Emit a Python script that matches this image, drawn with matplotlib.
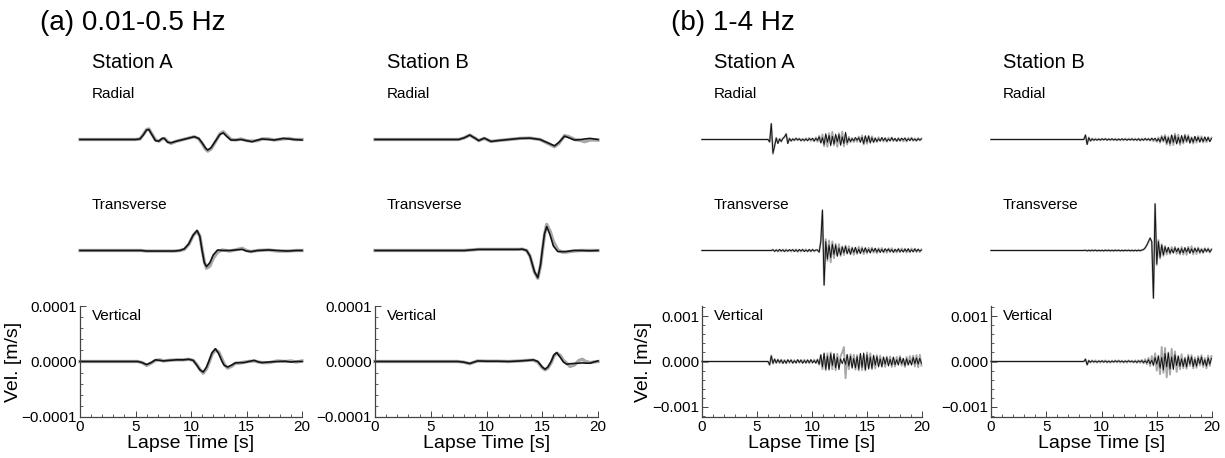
import numpy as np
import matplotlib.pyplot as plt
from matplotlib.ticker import MultipleLocator

plt.rcParams['font.family'] = ['Liberation Sans', 'DejaVu Sans']

# ---------------- (a) 0.01-0.5 Hz : time [s], velocity [um/s] ----------------
# obs = observed (black), syn = synthetic (gray)
la_A_rad_t = [0, 5.0, 5.4, 5.7, 6.0, 6.2, 6.5, 6.8, 7.1, 7.4, 7.6, 7.9, 8.2, 8.7, 9.3, 9.9, 10.3, 10.7,
              11.0, 11.3, 11.5, 11.8, 12.2, 12.6, 12.9, 13.2, 13.6, 14.0, 14.5, 15.0, 15.5, 16.0, 16.4,
              17.0, 17.5, 18.3, 18.8, 19.3, 20.0]
la_A_rad_obs = [0, 0, 1, 8, 17, 18, 8, -2, -3, 2, 2, -5, -6, -3, 0, 3, 5, 2, -6, -15, -19, -15, -3, 9, 12,
                6, -1, -1, 0, -2, -4, -1, 1, 0, -1, 2, 1, 0, -1]
la_A_rad_syn = [0, 0, 1, 9, 18, 19, 9, -1, -3, 1, 2, -4, -7, -3, 0, 3, 5, 1, -7, -17, -21, -17, -4, 10, 14,
                8, 0, -1, 1, -2, -3, -2, 1, 1, -1, 1, 2, 0, 0]

la_A_tra_t = [0, 5.5, 6.0, 8.5, 9.0, 9.4, 9.8, 10.2, 10.55, 10.8, 11.0, 11.2, 11.4, 11.7, 12.0, 12.4, 12.8,
              13.5, 14.0, 14.6, 15.0, 15.4, 16.0, 17.0, 17.8, 18.7, 19.5, 20.0]
la_A_tra_obs = [0, 0, -1, -1, 0, 3, 12, 28, 36, 25, 0, -22, -29, -22, -8, 1, 0, 0, 1, 2, -1, -2, 0, 1, 0,
                -1, 0, 0]
la_A_tra_syn = [0, 0, -1, -1, 0, 2, 11, 27, 35, 26, 2, -20, -32, -28, -14, -3, 1, -1, 1, 4, 0, -2, 0, 1, -1,
                -1, 0, 0]

la_A_ver_t = [0, 4.5, 5.2, 5.6, 6.0, 6.4, 6.8, 7.2, 7.5, 8.0, 8.7, 9.3, 9.8, 10.2, 10.5, 10.8, 11.1, 11.4,
              11.6, 11.9, 12.2, 12.5, 12.8, 13.0, 13.3, 13.7, 14.0, 14.4, 14.8, 15.2, 15.7, 16.1, 16.4,
              17.0, 17.8, 18.5, 19.0, 19.5, 20.0]
la_A_ver_obs = [0, 0, 0, -2, -5.5, -2, 3, 2, 1, 2, 3, 3, 4, 2, -6, -15, -19, -10, 0, 16, 23, 14, 0, -7,
                -10, -6, -2.5, -2, -2, 0, 2, -1, -2, -1, 0, 0.5, -1, 0, 0]
la_A_ver_syn = [0, 0, 0, -2, -7, -3, 2, 3, 1, 2, 3, 3, 4, 2, -5, -14, -21, -13, -3, 13, 21, 17, 4, -5,
                -12, -8, -3, -3, -1, 0, 1, -1, -2, -2, 1, 0, 1, -1, 1]

la_B_rad_t = [0, 7.5, 8.0, 8.5, 9.0, 9.3, 9.8, 10.4, 11.0, 12.0, 13.0, 13.9, 14.8, 15.5, 16.1, 16.5, 17.0,
              17.4, 17.9, 18.5, 18.8, 19.3, 20.0]
la_B_rad_obs = [0, 0, 3, 8, 2, -2, 2.5, -3.5, -2, 0, 2, 2.5, 0, -6, -11.5, -5, 6, 3, -1, 0, 1, 2, 0]
la_B_rad_syn = [0, 0, 3, 8, 2, -2, 2, -3.5, -2, 0, 2, 2.5, 0, -7, -13, -7, 7, 5, 0, -2, -4, -1, -1]

la_B_tra_t = [0, 8.0, 9.3, 12.9, 13.2, 13.6, 13.9, 14.3, 14.6, 14.85, 15.0, 15.2, 15.4, 15.7, 16.0, 16.4,
              16.8, 17.1, 17.8, 18.5, 19.3, 20.0]
la_B_tra_obs = [0, 0, 2, 2, 2.5, 0, -10, -38, -49, -25, 0, 30, 43, 28, 8, -2, -2, -2, 0, 0, -0.5, 0]
la_B_tra_syn = [0, 0, 2, 2, 2.5, 0, -10, -39, -50, -27, -3, 28, 47, 35, 16, 1, -3, -3, -1, 0, 0, 0]

la_B_ver_t = [0, 7.4, 7.9, 8.5, 8.9, 9.2, 10.0, 11.0, 12.0, 13.0, 13.7, 14.2, 14.6, 15.0, 15.25, 15.5,
              15.8, 16.05, 16.3, 16.6, 16.9, 17.2, 17.5, 17.9, 18.3, 18.6, 18.9, 19.3, 19.6, 20.0]
la_B_ver_obs = [0, 0, -1, -3.5, -1, 1, 0.5, 0.5, 0, 1, 2, 3, 0, -10, -14, -10, 0, 12, 16, 8, -1, -5, -4,
                -3.5, -3, -2.5, -3, -3, -1, 1]
la_B_ver_syn = [0, 0, -1, -4, -1, 1, 0.5, 0.5, 0, 1, 2, 2.5, -1, -11, -15, -12, -2, 10, 15, 11, 2, -3, -9,
                -6, 2, 4, 0, -2, -1, 0]

# ---------------- (b) 1-4 Hz : samples every 0.15 s from onset, velocity [um/s] ----------------
hf_dt = 0.15

hb_A_start = 6.0
hb_A_rad_obs = [0, -50, 355, -300, -150, 30, -90, 10, -40, 20,
                60, 120, -90, 20, -30, 10, -15, 25, -10, 15,
                -25, 5, -20, 15, -30, 20, -10, 30, -35, 25,
                -20, 60, -80, 40, -110, 130, -60, 90, -140, 70,
                -100, 120, -50, 110, -130, 60, -90, 160, -70, 30,
                -45, 20, -30, 45, -15, 40, -65, 50, -90, 85,
                -55, 75, -80, 40, -60, 30, -45, 15, -30, 45,
                -20, 35, -40, 10, -30, 40, -20, 25, -35, 20,
                -25, 30, -10, 35, -30, 15, -25, 30, -20, 10,
                -25, 20, -15, 10]
hb_A_rad_syn = [0, -60, 340, -320, -130, 40, -80, 20, -50, 30,
                50, 130, -80, 30, -35, 20, -25, 30, -20, 25,
                -30, 20, -35, 25, -20, 35, -30, 15, -40, 45,
                -50, 80, -60, 110, -150, 90, -160, 140, -90, 170,
                -130, 80, -160, 140, -100, 170, -150, 120, -110, 60,
                -60, 35, -55, 30, -50, 65, -40, 90, -110, 60,
                -95, 85, -50, 70, -65, 35, -55, 50, -40, 30,
                -45, 25, -50, 40, -25, 45, -35, 20, -40, 35,
                -35, 20, -40, 25, -45, 35, -20, 40, -30, 25,
                -35, 30, -20, 25]
hb_A_tra_obs = [0, 0, 0, 15, -20, 10, -15, 25, -10, 15,
                -25, 10, -15, 20, -5, 20, -25, 15, -20, 25,
                -10, 20, -25, 10, -20, 25, -15, 20, -10, 10,
                10, -40, 200, 900, -770, 200, -190, 120, -160, 140,
                -90, 120, -130, 60, -100, 80, -50, 90, -70, 40,
                -80, 55, -40, 70, -60, 30, -70, 45, -35, 60,
                -40, 25, -55, 40, -20, 50, -35, 30, -45, 25,
                -35, 40, -15, 35, -30, 20, -40, 25, -20, 35,
                -30, 15, -35, 30, -20, 40, -30, 15, -30, 35,
                -20, 30, -15, 10]
hb_A_tra_syn = [0, 0, 0, 20, -15, 20, -25, 15, -20, 20,
                -15, 25, -20, 15, -25, 20, -15, 25, -30, 15,
                -25, 25, -15, 25, -25, 15, -25, 25, -20, 15,
                10, -30, 190, 880, -760, 250, -230, 220, -260, 200,
                -170, 150, -110, 140, -120, 90, -100, 110, -70, 95,
                -85, 70, -95, 60, -75, 85, -50, 75, -80, 50,
                -65, 60, -40, 65, -50, 40, -60, 50, -30, 55,
                -45, 30, -50, 45, -30, 50, -40, 25, -45, 40,
                -35, 45, -25, 40, -45, 30, -40, 45, -25, 40,
                -35, 25, -35, 25]
hb_A_ver_obs = [0, -70, 125, -40, 50, -30, 40, -20, 35, -40,
                20, -35, 40, -15, 30, -35, 15, -30, 40, -20,
                30, -40, 20, -30, 35, -25, 40, -30, 20, -35,
                40, -60, 150, -120, 190, -170, 120, -190, 170, -90,
                180, -140, 90, -180, 60, -50, 70, -60, 150, -100,
                120, -150, 70, -140, 110, -170, 180, -130, 190, -180,
                150, -170, 100, -150, 140, -80, 110, -120, 60, -110,
                100, -60, 90, -100, 50, -80, 100, -70, 40, -80,
                90, -50, 70, -90, 60, -70, 30, -80, 90, -50,
                80, -60, 70, -40]
hb_A_ver_syn = [0, -80, 130, -50, 55, -35, 45, -35, 40, -40,
                35, -40, 30, -30, 40, -35, 30, -35, 35, -30,
                35, -30, 40, -35, 30, -40, 35, -25, 40, -35,
                50, -70, 140, -170, 160, -190, 180, -150, 200, -170,
                150, -190, 170, -120, 120, 200, 320, -370, 150, -170,
                160, -120, 150, -180, 140, -200, 160, -190, 150, -200,
                200, -140, 180, -170, 120, -150, 140, -90, 130, -120,
                90, -120, 110, -70, 110, -120, 80, -110, 100, -60,
                120, -90, 60, -120, 100, -80, 120, -60, 130, -110,
                140, -130, 150, -90]

hb_B_start = 8.4
hb_B_rad_obs = [0, 100, -110, 40, -30, 15, -15, 5, -15, 10,
                -10, 15, -5, 15, -15, 10, -5, 15, -10, 5,
                -15, 10, -10, 15, -5, 10, -15, 5, -10, 15,
                -10, 5, -15, 15, -20, 10, -15, 20, -10, 15,
                -20, 25, -10, 30, -35, 20, -50, 60, -30, 70,
                -80, 40, -90, 100, -60, 90, -100, 50, -80, 90,
                -60, 90, -40, 70, -80, 40, -60, 70, -30, 50,
                -60, 35, -45, 60, -30, 45, -50, 20]
hb_B_rad_syn = [0, 95, -105, 45, -35, 20, -20, 20, -15, 15,
                -20, 15, -15, 20, -15, 15, -20, 15, -15, 20,
                -20, 15, -20, 15, -20, 20, -15, 20, -15, 20,
                -20, 20, -20, 20, -25, 20, -20, 25, -20, 20,
                -25, 30, -40, 20, -50, 45, -70, 80, -50, 100,
                -110, 70, -130, 90, -120, 130, -80, 110, -120, 60,
                -90, 110, -60, 100, -70, 50, -90, 60, -70, 75,
                -45, 70, -65, 40, -60, 55, -35, 40]
hb_B_tra_obs = [0, 5, -5, 5, -5, 5, -5, 5, -5, 5,
                -5, 5, -5, 5, -5, 5, -5, 5, -5, 5,
                -5, 5, -5, 5, -5, 5, -5, 5, -5, 5,
                -5, 5, -5, 5, -5, 10, 20, 60, 120, 200,
                280, 200, -1060, 1040, -300, 200, -150, 120, -100, 80,
                -40, 70, -60, 30, -55, 60, -25, 50, -65, 40,
                -50, 60, -30, 55, -60, 35, -45, 50, -25, 45,
                -40, 25, -45, 40, -20, 35, -35, 20]
hb_B_tra_syn = [0, 10, -15, 10, -15, 15, -10, 15, -15, 10,
                -15, 10, -15, 15, -10, 15, -15, 10, -15, 15,
                -10, 15, -15, 10, -15, 15, -10, 15, -15, 10,
                -15, 10, -15, 15, -10, 10, 20, 55, 115, 190,
                270, 190, -1050, 1020, -320, 230, -180, 140, -120, 100,
                -90, 60, -80, 75, -50, 80, -75, 50, -85, 80,
                -90, 60, -95, 85, -60, 95, -85, 55, -75, 70,
                -60, 40, -55, 50, -35, 50, -45, 30]
hb_B_ver_obs = [0, 50, -75, 20, -15, 15, -10, 5, -15, 10,
                -5, 15, -10, 10, -15, 5, -15, 10, -10, 15,
                -10, 15, -5, 10, -15, 10, -10, 15, -5, 10,
                -15, 10, -20, 15, -10, 20, -25, 15, -30, 40,
                -50, 30, -80, 90, -60, 120, -150, 90, -190, 180,
                -120, 190, -170, 100, -180, 150, -90, 120, -110, 60,
                -110, 70, -120, 110, -60, 100, -110, 50, -100, 80,
                -50, 100, -80, 40, -100, 80, -60, 70]
hb_B_ver_syn = [0, 55, -70, 25, -25, 25, -20, 25, -25, 20,
                -25, 20, -20, 25, -25, 20, -25, 20, -20, 25,
                -20, 25, -25, 20, -25, 20, -25, 25, -20, 20,
                -25, 25, -30, 25, -30, 35, -40, 50, -60, 80,
                -100, 120, -90, 180, -200, 130, -280, 320, -250, 300,
                -350, 200, -290, 280, -150, 220, -230, 120, -170, 160,
                -150, 90, -160, 150, -100, 140, -150, 90, -140, 120,
                -90, 140, -120, 80, -150, 130, -100, 120]


def hf_trace(start, vals):
    t = np.concatenate([[0.0], start + hf_dt * np.arange(len(vals))])
    return t, np.concatenate([[0.0], vals])


columns = [
    dict(comp=[(la_A_rad_t, la_A_rad_obs, la_A_rad_syn),
               (la_A_tra_t, la_A_tra_obs, la_A_tra_syn),
               (la_A_ver_t, la_A_ver_obs, la_A_ver_syn)],
         station='Station A', band='a'),
    dict(comp=[(la_B_rad_t, la_B_rad_obs, la_B_rad_syn),
               (la_B_tra_t, la_B_tra_obs, la_B_tra_syn),
               (la_B_ver_t, la_B_ver_obs, la_B_ver_syn)],
         station='Station B', band='a'),
]
for start, rad, tra, ver, name in [
        (hb_A_start, (hb_A_rad_obs, hb_A_rad_syn), (hb_A_tra_obs, hb_A_tra_syn),
         (hb_A_ver_obs, hb_A_ver_syn), 'Station A'),
        (hb_B_start, (hb_B_rad_obs, hb_B_rad_syn), (hb_B_tra_obs, hb_B_tra_syn),
         (hb_B_ver_obs, hb_B_ver_syn), 'Station B')]:
    comp = []
    for obs, syn in (rad, tra, ver):
        t, o = hf_trace(start, obs)
        _, s = hf_trace(start, syn)
        comp.append((t, o, s))
    columns.append(dict(comp=comp, station=name, band='b'))

comp_names = ['Radial', 'Transverse', 'Vertical']

# layout in pixels
W, H = 1225, 458
col_x = [(80, 302), (375, 598), (702, 922), (991, 1212)]
row_y = [(84, 195), (195, 306), (306, 417)]

fig = plt.figure(figsize=(W / 100, H / 100), dpi=100)

for ci, col in enumerate(columns):
    x0, x1 = col_x[ci]
    if col['band'] == 'a':
        ylim = 1.0e-4
        yt, ylab = [-1e-4, 0, 1e-4], ['\u22120.0001', '0.0000', '0.0001']
        ymin_step = 2e-5
        lw_k, lw_g = 1.2, 2.4
    else:
        ylim = 1.23e-3
        yt, ylab = [-1e-3, 0, 1e-3], ['\u22120.001', '0.000', '0.001']
        ymin_step = 2e-4
        lw_k, lw_g = 0.7, 1.4
    for ri, (t, obs, syn) in enumerate(col['comp']):
        ytop, ybot = row_y[ri]
        ax = fig.add_axes([x0 / W, 1 - ybot / H, (x1 - x0) / W, (ybot - ytop) / H])
        ax.plot(t, np.array(syn) * 1e-6, color='#a8a8a8', lw=lw_g, solid_joinstyle='round', clip_on=False)
        ax.plot(t, np.array(obs) * 1e-6, color='#141414', lw=lw_k, solid_joinstyle='round', clip_on=False)
        ax.set_xlim(0, 20)
        ax.set_ylim(-ylim, ylim)
        ax.patch.set_alpha(0)
        ax.text(12 / (x1 - x0), 1 - 10 / 111, comp_names[ri], transform=ax.transAxes,
                fontsize=11, va='center', ha='left')
        if ri < 2:
            ax.axis('off')
            continue
        for side in ('top', 'right'):
            ax.spines[side].set_visible(False)
        for side in ('left', 'bottom'):
            ax.spines[side].set_color('#444444')
            ax.spines[side].set_linewidth(0.9)
        ax.set_xticks([0, 5, 10, 15, 20])
        ax.xaxis.set_minor_locator(MultipleLocator(1))
        ax.set_yticks(yt, labels=ylab)
        ax.yaxis.set_minor_locator(MultipleLocator(ymin_step))
        ax.tick_params(which='both', direction='in', color='#444444', labelsize=11, pad=2)
        ax.tick_params(which='major', length=4, width=0.7)
        ax.tick_params(which='minor', length=2, width=0.6)
        ax.set_xlabel('Lapse Time [s]', fontsize=14, labelpad=1)
        if ci in (0, 2):
            ax.set_ylabel('Vel. [m/s]', fontsize=14, labelpad=0)

    fig.text((x0 + 12) / W, 1 - 63 / H, col['station'], fontsize=14.5, va='center', ha='left')

fig.text(40 / W, 1 - 23 / H, '(a) 0.01-0.5 Hz', fontsize=20, va='center', ha='left')
fig.text(671 / W, 1 - 23 / H, '(b) 1-4 Hz', fontsize=20, va='center', ha='left')

fig.savefig('out.png', dpi=100)
